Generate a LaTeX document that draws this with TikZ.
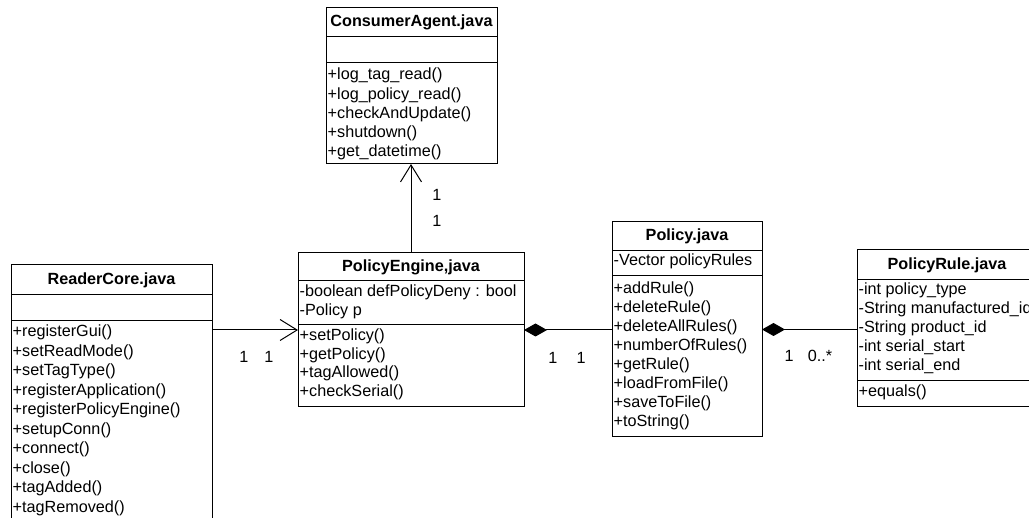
\documentclass[tikz,border=0pt]{standalone}
\usepackage{fontspec}
\setmainfont{Liberation Sans}
\usetikzlibrary{arrows.meta}
\begin{document}
\begin{tikzpicture}[x=1pt,y=-1pt,
  font=\fontsize{16.2}{19}\selectfont,
  classbox/.style={draw,line width=1pt,inner sep=0pt,outer sep=0pt,anchor=north west},
  sepline/.style={line width=1pt},
  ctitle/.style={font=\fontsize{16.2}{19}\selectfont\bfseries,inner sep=0pt},
  member/.style={anchor=west,inner sep=0pt,text height=11.5pt,text depth=3.5pt},
  mult/.style={inner sep=0pt},
  assoc/.style={line width=1pt,-{Straight Barb[length=17pt,width=21pt]}},
  comp/.style={line width=1pt,{Diamond[length=23pt,width=13pt]}-}
]
\useasboundingbox (0,0) rectangle (1029,518);
\clip (0,0) rectangle (1029,518);
\fill[white] (0,0) rectangle (1029,518);

% ConsumerAgent
\node[classbox,minimum width=171pt,minimum height=156pt] (ca) at (326,8) {};
\draw[sepline] (ca.west |- 0,37) -- (ca.east |- 0,37);
\draw[sepline] (ca.west |- 0,63) -- (ca.east |- 0,63);
\node[ctitle] (cat) at (411.5,22.5) {ConsumerAgent.java};
\foreach \t [count=\i from 0] in {+log\_tag\_read(),+log\_policy\_read(),+checkAndUpdate(),+shutdown(),+get\_datetime()}
  \node[member] (cam\i) at (327.5,76+19.25*\i) {\t};

% ReaderCore
\node[classbox,minimum width=201pt,minimum height=280pt] (rc) at (11,265) {};
\draw[sepline] (rc.west |- 0,295) -- (rc.east |- 0,295);
\draw[sepline] (rc.west |- 0,321) -- (rc.east |- 0,321);
\node[ctitle] (rct) at (111.5,280) {ReaderCore.java};
\foreach \t [count=\i from 0] in {+registerGui(),+setReadMode(),+setTagType(),+registerApplication(),+registerPolicyEngine(),+setupConn(),+connect(),+close(),+tagAdded(),+tagRemoved()}
  \node[member] (rcm\i) at (12.5,333+19.5*\i) {\t};

% PolicyEngine
\node[classbox,minimum width=226pt,minimum height=154pt] (pe) at (298,253) {};
\draw[sepline] (pe.west |- 0,281) -- (pe.east |- 0,281);
\draw[sepline] (pe.west |- 0,325) -- (pe.east |- 0,325);
\node[ctitle] (pet) at (411,267) {PolicyEngine,java};
\node[member] (pea0) at (299.5,293) {-boolean defPolicyDeny : bool};
\node[member] (pea1) at (299.5,312) {-Policy p};
\foreach \t [count=\i from 0] in {+setPolicy(),+getPolicy(),+tagAllowed(),+checkSerial()}
  \node[member] (pem\i) at (299.5,337+18.5*\i) {\t};

% Policy
\node[classbox,minimum width=150pt,minimum height=215pt] (p) at (612,222) {};
\draw[sepline] (p.west |- 0,251) -- (p.east |- 0,251);
\draw[sepline] (p.west |- 0,276) -- (p.east |- 0,276);
\node[ctitle] (pt) at (687,236.5) {Policy.java};
\node[member] (pa0) at (613.5,262) {-Vector policyRules};
\foreach \t [count=\i from 0] in {+addRule(),+deleteRule(),+deleteAllRules(),+numberOfRules(),+getRule(),+loadFromFile(),+saveToFile(),+toString()}
  \node[member] (pm\i) at (613.5,290+19*\i) {\t};

% PolicyRule
\node[classbox,minimum width=220pt,minimum height=157pt] (pr) at (857,250) {};
\draw[sepline] (pr.west |- 0,280) -- (pr.east |- 0,280);
\draw[sepline] (pr.west |- 0,381) -- (pr.east |- 0,381);
\node[ctitle] (prt) at (947,265) {PolicyRule.java};
\foreach \t [count=\i from 0] in {-int policy\_type,-String manufactured\_id,-String product\_id,-int serial\_start,-int serial\_end}
  \node[member] (pra\i) at (858.5,291+19*\i) {\t};
\node[member] (prm0) at (858.5,393) {+equals()};

% connectors
\draw[assoc] (rc.east |- pe.west) -- (pe.west);
\draw[assoc] (pe.north) -- (pe.north |- ca.south);
\draw[comp] (pe.east) -- (p.west |- pe.east);
\draw[comp] (p.east) -- (pr.west |- p.east);

% multiplicities
\node[mult] (m1) at (244,357) {1};
\node[mult] (m2) at (269,357) {1};
\node[mult] (m3) at (437,195) {1};
\node[mult] (m4) at (437,221) {1};
\node[mult] (m5) at (553,358) {1};
\node[mult] (m6) at (581,358) {1};
\node[mult] (m7) at (789,356) {1};
\node[mult] (m8) at (820,356) {0..*};
\end{tikzpicture}
\end{document}
